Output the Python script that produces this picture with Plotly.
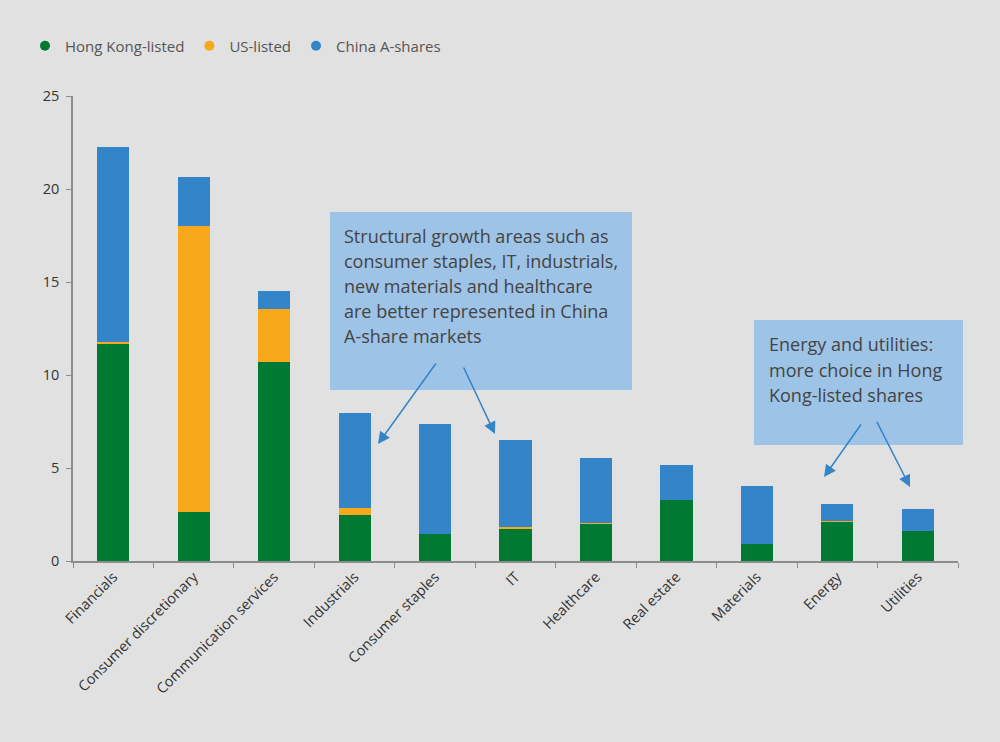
import plotly.graph_objects as go

# sectors and share counts
sectors = ["Financials", "Consumer discretionary", "Communication services", "Industrials",
           "Consumer staples", "IT", "Healthcare", "Real estate", "Materials", "Energy", "Utilities"]
hong_kong = [11.7, 2.65, 10.68, 2.49, 1.45, 1.77, 2.01, 3.27, 0.93, 2.1, 1.6]
us_listed = [0.07, 15.36, 2.87, 0.34, 0.0, 0.07, 0.03, 0.0, 0.0, 0.03, 0.0]
a_shares = [10.47, 2.64, 0.99, 5.15, 5.9, 4.69, 3.52, 1.87, 3.12, 0.96, 1.22]

series = [
    ("Hong Kong-listed", hong_kong, "#007a33"),
    ("US-listed", us_listed, "#f7a81b"),
    ("China A-shares", a_shares, "#3484c9"),
]

box1_lines = ["Structural growth areas such as", "consumer staples, IT, industrials,",
              "new materials and healthcare", "are better represented in China",
              "A-share markets"]
box2_lines = ["Energy and utilities:", "more choice in Hong", "Kong-listed shares"]

font_family = "'Open Sans', sans-serif"
text_color = "#3c3c3c"
arrow_color = "#3484c9"

fig = go.Figure()
for name, vals, color in series:
    fig.add_trace(go.Bar(
        x=sectors, y=vals, name=name, showlegend=False,
        marker=dict(color=color, line=dict(width=0)),
    ))
# legend entries drawn as round dots
for name, vals, color in series:
    fig.add_trace(go.Scatter(
        x=[None], y=[None], name=name, mode="markers",
        marker=dict(color=color, size=10, symbol="circle"),
    ))

fig.update_layout(
    barmode="stack",
    bargap=0.6,
    width=1000, height=742,
    margin=dict(l=73, r=42, t=96, b=181, autoexpand=False),
    paper_bgcolor="#e1e1e1",
    plot_bgcolor="#e1e1e1",
    font=dict(family=font_family, size=14, color=text_color),
    legend=dict(
        orientation="h", xref="container", yref="container",
        x=0.025, xanchor="left", y=1 - 46 / 742, yanchor="middle",
        font=dict(size=15, color="#555555"),
        traceorder="normal", itemwidth=30,
        bgcolor="rgba(0,0,0,0)",
    ),
    xaxis=dict(
        showline=True, linecolor="#8c8c8c", linewidth=1.5,
        ticks="outside", tickson="boundaries", ticklen=5, tickcolor="#8c8c8c",
        tickangle=-45, showgrid=False,
        tickfont=dict(size=14.5, color="#333333"),
    ),
    yaxis=dict(
        range=[0, 25], dtick=5,
        showline=True, linecolor="#8c8c8c", linewidth=1.5,
        ticks="outside", ticklen=5, tickcolor="#8c8c8c",
        showgrid=False, zeroline=False, ticklabelstandoff=4,
        tickfont=dict(size=14.5, color="#333333"),
    ),
)

# annotation boxes
fig.add_shape(type="rect", xref="paper", yref="paper",
              x0=0.2904, x1=0.6316, y0=0.3677, y1=0.7505,
              fillcolor="#9dc3e6", line=dict(width=0), layer="above")
fig.add_shape(type="rect", xref="paper", yref="paper",
              x0=0.7695, x1=1.0056, y0=0.2495, y1=0.5183,
              fillcolor="#9dc3e6", line=dict(width=0), layer="above")

# box text, one annotation per line to get the wide line spacing
for i, line in enumerate(box1_lines):
    fig.add_annotation(
        xref="paper", yref="paper", x=(342 - 73) / 885, y=(561 - 236 - 25 * i) / 465,
        xanchor="left", yanchor="middle", text=line, showarrow=False,
        font=dict(size=18, color="#444444"),
    )
for i, line in enumerate(box2_lines):
    fig.add_annotation(
        xref="paper", yref="paper", x=(767 - 73) / 885, y=(561 - 344 - 25.5 * i) / 465,
        xanchor="left", yanchor="middle", text=line, showarrow=False,
        font=dict(size=18, color="#444444"),
    )

# arrows: head position in paper coords, tail offset in pixels
arrows = [
    (0.3446, 0.2516, 59, -82),
    (0.4768, 0.2731, -32, -68),
    (0.8486, 0.1806, 38, -54),
    (0.9458, 0.1590, -34, -67),
]
for hx, hy, ax, ay in arrows:
    fig.add_annotation(
        xref="paper", yref="paper", x=hx, y=hy, ax=ax, ay=ay,
        text="", showarrow=True, arrowhead=2, arrowsize=1.6, arrowwidth=1.5,
        arrowcolor=arrow_color,
    )

fig.write_html("out.html", config={"displayModeBar": False},
               post_script="document.body.style.margin='0';")
